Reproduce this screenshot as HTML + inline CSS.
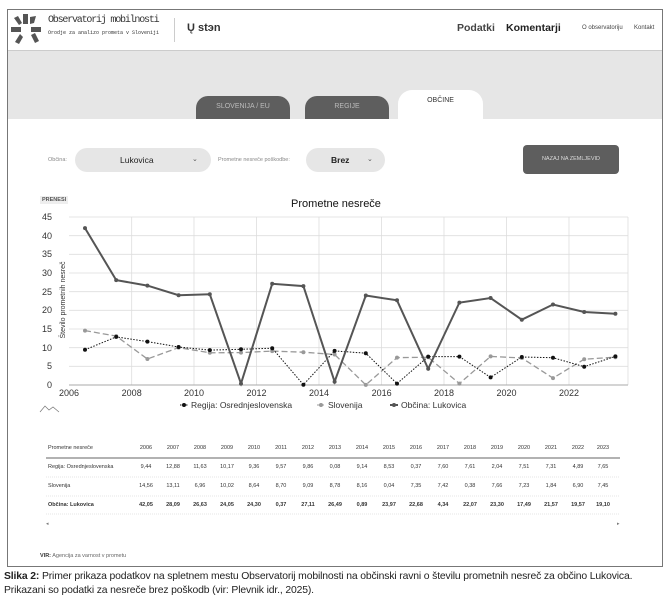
<!DOCTYPE html>
<html><head><meta charset="utf-8"><style>
body{margin:0;width:672px;height:604px;background:#fff;position:relative;overflow:hidden;font-family:"Liberation Sans",sans-serif}
.a{position:absolute}
</style></head><body>
<div class="a" style="left:7px;top:9px;width:654px;height:556px;border:1px solid #777;"></div>
<div class="a" style="left:8px;top:51px;width:654px;height:68px;background:#e6e6e6"></div>
<div class="a" style="left:8px;top:50px;width:654px;height:1px;background:#ccc"></div>
<svg class="a" style="left:10px;top:13px" width="32" height="32" viewBox="0 0 32 32"><g fill="#555">
<rect x="13" y="1" width="5" height="10"/><rect x="1" y="14" width="10" height="5"/><rect x="21" y="14" width="10" height="5"/>
<polygon points="4,5 8,3 12,10 9,12"/><polygon points="20,4 26,3 24,10 20,11"/>
<polygon points="5,29 10,21 13,24 9,31"/><polygon points="21,22 25,20 29,28 25,30"/></g></svg>
<div class="a" style="left:48px;top:15px;font-family:'Liberation Mono',monospace;font-size:10px;letter-spacing:-1.2px;color:#333">Observatorij mobilnosti</div>
<div class="a" style="left:48px;top:30px;font-family:'Liberation Mono',monospace;font-size:5px;color:#333">Orodje za analizo prometa v Sloveniji</div>
<div class="a" style="left:174px;top:18px;width:1px;height:24px;background:#ccc"></div>
<div class="a" style="left:187px;top:22px;font-size:11px;font-weight:bold;color:#333">Ų stэn</div>
<div class="a" style="left:457px;top:22px;font-size:10.5px;font-weight:bold;color:#444">Podatki</div>
<div class="a" style="left:506px;top:22px;font-size:10.5px;font-weight:bold;color:#222">Komentarji</div>
<div class="a" style="left:582px;top:25px;font-size:6px;color:#444">O observatoriju</div>
<div class="a" style="left:634px;top:25px;font-size:6px;color:#444">Kontakt</div>
<div class="a" style="left:196px;top:96px;width:94px;height:23px;background:#5e5e5e;border-radius:12px 12px 0 0;color:#bbb;font-size:7px;text-align:center;line-height:22px">SLOVENIJA / EU</div>
<div class="a" style="left:305px;top:96px;width:84px;height:23px;background:#5e5e5e;border-radius:12px 12px 0 0;color:#bbb;font-size:7px;text-align:center;line-height:22px">REGIJE</div>
<div class="a" style="left:398px;top:90px;width:85px;height:29px;background:#fff;border-radius:14px 14px 0 0;color:#333;font-size:7px;text-align:center;line-height:22px">OBČINE</div>
<div class="a" style="left:48px;top:157px;font-size:5.5px;color:#888">Občina:</div>
<div class="a" style="left:75px;top:148px;width:136px;height:24px;background:#e6e6e6;border-radius:12px"></div>
<div class="a" style="left:120px;top:155px;font-size:8.5px;color:#222">Lukovica</div>
<div class="a" style="left:192px;top:155px;font-size:7px;color:#555">⌄</div>
<div class="a" style="left:218px;top:157px;font-size:5.5px;color:#888">Prometne nesreče poškodbe:</div>
<div class="a" style="left:306px;top:148px;width:79px;height:24px;background:#e6e6e6;border-radius:12px"></div>
<div class="a" style="left:331px;top:155px;font-size:8.5px;font-weight:bold;color:#222">Brez</div>
<div class="a" style="left:367px;top:155px;font-size:7px;color:#555">⌄</div>
<div class="a" style="left:523px;top:145px;width:96px;height:29px;background:#5e5e5e;border-radius:4px;color:#ddd;font-size:5.5px;text-align:center;line-height:29px">NAZAJ NA ZEMLJEVID</div>
<div class="a" style="left:40px;top:196px;background:#eee;padding:1px 2px;font-size:5.5px;font-weight:bold;color:#555">PRENESI</div>
<div class="a" style="left:0;top:198px;width:672px;text-align:center;font-size:11px;color:#111">Prometne nesreče</div>
<svg class="a" style="left:0;top:0" width="672" height="604" font-family="Liberation Sans, sans-serif">
<g stroke="#ddd" stroke-width="0.8">
<line x1="69" y1="217" x2="628" y2="217"/><line x1="69" y1="235.7" x2="628" y2="235.7"/><line x1="69" y1="254.3" x2="628" y2="254.3"/><line x1="69" y1="273" x2="628" y2="273"/><line x1="69" y1="291.7" x2="628" y2="291.7"/><line x1="69" y1="310.3" x2="628" y2="310.3"/><line x1="69" y1="329" x2="628" y2="329"/><line x1="69" y1="347.7" x2="628" y2="347.7"/><line x1="69" y1="366.3" x2="628" y2="366.3"/>
<line x1="131.7" y1="217" x2="131.7" y2="385"/><line x1="194" y1="217" x2="194" y2="385"/><line x1="256.5" y1="217" x2="256.5" y2="385"/><line x1="319" y1="217" x2="319" y2="385"/><line x1="381.6" y1="217" x2="381.6" y2="385"/><line x1="444" y1="217" x2="444" y2="385"/><line x1="506.5" y1="217" x2="506.5" y2="385"/><line x1="569" y1="217" x2="569" y2="385"/><line x1="628" y1="217" x2="628" y2="385"/>
</g>
<line x1="69" y1="385" x2="628" y2="385" stroke="#aaa"/>
<g font-size="9" fill="#333" text-anchor="end">
<text x="52" y="220">45</text><text x="52" y="239">40</text><text x="52" y="257">35</text><text x="52" y="276">30</text><text x="52" y="295">25</text><text x="52" y="313">20</text><text x="52" y="332">15</text><text x="52" y="351">10</text><text x="52" y="369">5</text><text x="52" y="388">0</text></g>
<g font-size="9" fill="#333" text-anchor="middle">
<text x="69" y="396">2006</text><text x="131.7" y="396">2008</text><text x="194" y="396">2010</text><text x="256.5" y="396">2012</text><text x="319" y="396">2014</text><text x="381.6" y="396">2016</text><text x="444" y="396">2018</text><text x="506.5" y="396">2020</text><text x="569" y="396">2022</text></g>
<text transform="translate(65,300) rotate(-90)" font-size="7" fill="#333" text-anchor="middle">Število prometnih nesreč</text>
<polyline fill="none" stroke="#999" stroke-width="1.3" stroke-dasharray="6,3" points="85,330.6 116.2,336.1 147.4,359 178.6,347.6 209.8,352.8 241,352.6 272.2,351.1 303.4,352.2 334.6,354.5 365.8,384.9 397,357.6 428.2,357.3 459.4,383.6 490.6,356.4 521.8,358 553,378.1 584.2,359.2 615.4,357.2"/>
<polyline fill="none" stroke="#111" stroke-width="1" stroke-dasharray="1.5,1.5" points="85,349.8 116.2,336.9 147.4,341.6 178.6,347 209.8,350.1 241,349.3 272.2,348.2 303.4,384.7 334.6,350.9 365.8,353.2 397,383.6 428.2,356.6 459.4,356.6 490.6,377.4 521.8,357 553,357.7 584.2,366.7 615.4,356.4"/>
<polyline fill="none" stroke="#555" stroke-width="2" points="85,228.1 116.2,280.1 147.4,285.6 178.6,295.2 209.8,294.3 241,383.6 272.2,283.8 303.4,286.1 334.6,381.7 365.8,295.5 397,300.3 428.2,368.8 459.4,302.6 490.6,298 521.8,319.7 553,304.5 584.2,312 615.4,313.7"/>
<g fill="#999"><circle cx="85" cy="330.6" r="2"/><circle cx="116.2" cy="336.1" r="2"/><circle cx="147.4" cy="359" r="2"/><circle cx="178.6" cy="347.6" r="2"/><circle cx="209.8" cy="352.8" r="2"/><circle cx="241" cy="352.6" r="2"/><circle cx="272.2" cy="351.1" r="2"/><circle cx="303.4" cy="352.2" r="2"/><circle cx="334.6" cy="354.5" r="2"/><circle cx="365.8" cy="384.9" r="2"/><circle cx="397" cy="357.6" r="2"/><circle cx="428.2" cy="357.3" r="2"/><circle cx="459.4" cy="383.6" r="2"/><circle cx="490.6" cy="356.4" r="2"/><circle cx="521.8" cy="358" r="2"/><circle cx="553" cy="378.1" r="2"/><circle cx="584.2" cy="359.2" r="2"/><circle cx="615.4" cy="357.2" r="2"/></g>
<g fill="#111"><circle cx="85" cy="349.8" r="2"/><circle cx="116.2" cy="336.9" r="2"/><circle cx="147.4" cy="341.6" r="2"/><circle cx="178.6" cy="347" r="2"/><circle cx="209.8" cy="350.1" r="2"/><circle cx="241" cy="349.3" r="2"/><circle cx="272.2" cy="348.2" r="2"/><circle cx="303.4" cy="384.7" r="2"/><circle cx="334.6" cy="350.9" r="2"/><circle cx="365.8" cy="353.2" r="2"/><circle cx="397" cy="383.6" r="2"/><circle cx="428.2" cy="356.6" r="2"/><circle cx="459.4" cy="356.6" r="2"/><circle cx="490.6" cy="377.4" r="2"/><circle cx="521.8" cy="357" r="2"/><circle cx="553" cy="357.7" r="2"/><circle cx="584.2" cy="366.7" r="2"/><circle cx="615.4" cy="356.4" r="2"/></g>
<g fill="#555"><circle cx="85" cy="228.1" r="2"/><circle cx="116.2" cy="280.1" r="2"/><circle cx="147.4" cy="285.6" r="2"/><circle cx="178.6" cy="295.2" r="2"/><circle cx="209.8" cy="294.3" r="2"/><circle cx="241" cy="383.6" r="2"/><circle cx="272.2" cy="283.8" r="2"/><circle cx="303.4" cy="286.1" r="2"/><circle cx="334.6" cy="381.7" r="2"/><circle cx="365.8" cy="295.5" r="2"/><circle cx="397" cy="300.3" r="2"/><circle cx="428.2" cy="368.8" r="2"/><circle cx="459.4" cy="302.6" r="2"/><circle cx="490.6" cy="298" r="2"/><circle cx="521.8" cy="319.7" r="2"/><circle cx="553" cy="304.5" r="2"/><circle cx="584.2" cy="312" r="2"/><circle cx="615.4" cy="313.7" r="2"/></g>
<g font-size="8.5" fill="#333">
<line x1="180" y1="405" x2="188" y2="405" stroke="#111" stroke-dasharray="1.5,1.5"/><circle cx="184" cy="405" r="2" fill="#111"/><text x="191" y="408">Regija: Osrednjeslovenska</text>
<line x1="317" y1="405" x2="325" y2="405" stroke="#999" stroke-dasharray="3,1"/><circle cx="321" cy="405" r="2" fill="#999"/><text x="328" y="408">Slovenija</text>
<line x1="390" y1="405" x2="398" y2="405" stroke="#555" stroke-width="2"/><circle cx="394" cy="405" r="2" fill="#555"/><text x="401" y="408">Občina: Lukovica</text></g>
<polyline points="40,412 45,406 49,410 53,407 59,412" fill="none" stroke="#777" stroke-width="0.7"/>
<g font-size="5.5" fill="#333">
<text x="48" y="449">Prometne nesreče</text>
<g text-anchor="middle">
<text x="146" y="449">2006</text><text x="173" y="449">2007</text><text x="200" y="449">2008</text><text x="227" y="449">2009</text><text x="254" y="449">2010</text><text x="281" y="449">2011</text><text x="308" y="449">2012</text><text x="335" y="449">2013</text><text x="362" y="449">2014</text><text x="389" y="449">2015</text><text x="416" y="449">2016</text><text x="443" y="449">2017</text><text x="470" y="449">2018</text><text x="497" y="449">2019</text><text x="524" y="449">2020</text><text x="551" y="449">2021</text><text x="578" y="449">2022</text><text x="603" y="449">2023</text></g>
<text x="48" y="468">Regija: Osrednjeslovenska</text>
<g text-anchor="middle"><text x="146" y="468">9,44</text><text x="173" y="468">12,88</text><text x="200" y="468">11,63</text><text x="227" y="468">10,17</text><text x="254" y="468">9,36</text><text x="281" y="468">9,57</text><text x="308" y="468">9,86</text><text x="335" y="468">0,08</text><text x="362" y="468">9,14</text><text x="389" y="468">8,53</text><text x="416" y="468">0,37</text><text x="443" y="468">7,60</text><text x="470" y="468">7,61</text><text x="497" y="468">2,04</text><text x="524" y="468">7,51</text><text x="551" y="468">7,31</text><text x="578" y="468">4,89</text><text x="603" y="468">7,65</text></g>
<text x="48" y="487">Slovenija</text>
<g text-anchor="middle"><text x="146" y="487">14,56</text><text x="173" y="487">13,11</text><text x="200" y="487">6,96</text><text x="227" y="487">10,02</text><text x="254" y="487">8,64</text><text x="281" y="487">8,70</text><text x="308" y="487">9,09</text><text x="335" y="487">8,78</text><text x="362" y="487">8,16</text><text x="389" y="487">0,04</text><text x="416" y="487">7,35</text><text x="443" y="487">7,42</text><text x="470" y="487">0,38</text><text x="497" y="487">7,66</text><text x="524" y="487">7,23</text><text x="551" y="487">1,84</text><text x="578" y="487">6,90</text><text x="603" y="487">7,45</text></g>
<g font-weight="bold"><text x="48" y="506">Občina: Lukovica</text>
<g text-anchor="middle"><text x="146" y="506">42,05</text><text x="173" y="506">28,09</text><text x="200" y="506">26,63</text><text x="227" y="506">24,05</text><text x="254" y="506">24,30</text><text x="281" y="506">0,37</text><text x="308" y="506">27,11</text><text x="335" y="506">26,49</text><text x="362" y="506">0,89</text><text x="389" y="506">23,97</text><text x="416" y="506">22,68</text><text x="443" y="506">4,34</text><text x="470" y="506">22,07</text><text x="497" y="506">23,30</text><text x="524" y="506">17,49</text><text x="551" y="506">21,57</text><text x="578" y="506">19,57</text><text x="603" y="506">19,10</text></g></g>
</g>
<line x1="46" y1="458" x2="620" y2="458" stroke="#999" stroke-width="1.5"/>
<line x1="46" y1="477" x2="620" y2="477" stroke="#ccc" stroke-width="0.5" stroke-dasharray="1,1"/>
<line x1="46" y1="496" x2="620" y2="496" stroke="#ccc" stroke-width="0.5" stroke-dasharray="1,1"/>
<line x1="46" y1="514" x2="620" y2="514" stroke="#ccc" stroke-width="0.5" stroke-dasharray="1,1"/>
<text x="46" y="525" font-size="5" fill="#777">◂</text><text x="617" y="525" font-size="5" fill="#777">▸</text>
<text x="40" y="557" font-size="5.5" fill="#666"><tspan font-weight="bold" fill="#333">VIR:</tspan> Agencija za varnost v prometu</text>
</svg>
<div class="a" style="left:4px;top:570px;width:668px;font-size:10.4px;line-height:14px;color:#222;letter-spacing:-0.15px"><b>Slika 2:</b> Primer prikaza podatkov na spletnem mestu Observatorij mobilnosti na občinski ravni o številu prometnih nesreč za občino Lukovica. Prikazani so podatki za nesreče brez poškodb (vir: Plevnik idr., 2025).</div>
</body></html>
